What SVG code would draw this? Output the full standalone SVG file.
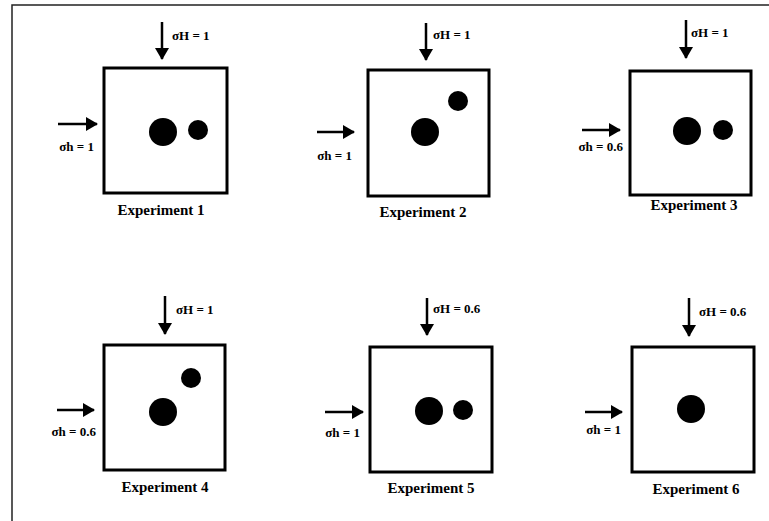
<svg xmlns="http://www.w3.org/2000/svg" width="769" height="521" viewBox="0 0 769 521">
<style>
.frame{stroke:#222;stroke-width:1.5;fill:none}
.box{fill:#fff;stroke:#000;stroke-width:3}
.dot{fill:#000}
.lbl{font-family:"Liberation Serif","Times New Roman",serif;font-weight:bold;font-size:13px;fill:#000}
.cap{font-family:"Liberation Serif","Times New Roman",serif;font-weight:bold;font-size:15px;fill:#000;text-anchor:middle}
.arr{stroke:#000;stroke-width:2.5;fill:none;marker-end:url(#ah)}
</style>
<defs>
<marker id="ah" markerUnits="userSpaceOnUse" markerWidth="14" markerHeight="14" viewBox="0 0 12 14" refX="11" refY="7" orient="auto">
<path d="M0,0 L12,7 L0,14 Z" fill="#000"/>
</marker>
</defs>
<rect width="769" height="521" fill="#fff"/>
<path class="frame" d="M12,521 V5 H769"/>

<g id="exp1">
<rect class="box" x="104" y="68" width="123" height="125"/>
<circle class="dot" cx="163" cy="132" r="14"/>
<circle class="dot" cx="198" cy="130" r="10"/>
<text class="lbl" x="172" y="40">σH = 1</text>
<text class="lbl" x="94" y="151" text-anchor="end">σh = 1</text>
<text class="cap" x="161" y="215">Experiment 1</text>
</g>
<g id="exp2">
<rect class="box" x="368" y="70" width="121" height="126"/>
<circle class="dot" cx="425" cy="132" r="14"/>
<circle class="dot" cx="458" cy="101" r="10"/>
<text class="lbl" x="433" y="39">σH = 1</text>
<text class="lbl" x="352" y="160" text-anchor="end">σh = 1</text>
<text class="cap" x="423" y="217">Experiment 2</text>
</g>
<g id="exp3">
<rect class="box" x="630" y="71" width="121" height="124"/>
<circle class="dot" cx="687" cy="131" r="14"/>
<circle class="dot" cx="723" cy="130" r="10"/>
<text class="lbl" x="691" y="37">σH = 1</text>
<text class="lbl" x="623" y="151" text-anchor="end">σh = 0.6</text>
<text class="cap" x="694" y="210">Experiment 3</text>
</g>
<g id="exp4">
<rect class="box" x="104" y="345" width="121" height="125"/>
<circle class="dot" cx="163" cy="412" r="14"/>
<circle class="dot" cx="191" cy="378" r="10"/>
<text class="lbl" x="176" y="314">σH = 1</text>
<text class="lbl" x="96" y="436" text-anchor="end">σh = 0.6</text>
<text class="cap" x="165" y="492">Experiment 4</text>
</g>
<g id="exp5">
<rect class="box" x="370" y="347" width="122" height="125"/>
<circle class="dot" cx="429" cy="411" r="14"/>
<circle class="dot" cx="463" cy="410" r="10"/>
<text class="lbl" x="433" y="313">σH = 0.6</text>
<text class="lbl" x="360" y="437" text-anchor="end">σh = 1</text>
<text class="cap" x="431" y="493">Experiment 5</text>
</g>
<g id="exp6">
<rect class="box" x="632" y="347" width="122" height="125"/>
<circle class="dot" cx="691" cy="409" r="14"/>
<text class="lbl" x="699" y="316">σH = 0.6</text>
<text class="lbl" x="621" y="434" text-anchor="end">σh = 1</text>
<text class="cap" x="696" y="494">Experiment 6</text>
</g>

<g id="connectors">
<line class="arr" x1="162" y1="22" x2="162" y2="59"/>
<line class="arr" x1="58" y1="124" x2="97" y2="124"/>
<line class="arr" x1="426" y1="23" x2="426" y2="60"/>
<line class="arr" x1="317" y1="132" x2="354" y2="132"/>
<line class="arr" x1="686" y1="20" x2="686" y2="58"/>
<line class="arr" x1="582" y1="130" x2="620" y2="130"/>
<line class="arr" x1="165" y1="296" x2="165" y2="334"/>
<line class="arr" x1="57" y1="410" x2="94" y2="410"/>
<line class="arr" x1="427" y1="298" x2="427" y2="335"/>
<line class="arr" x1="325" y1="412" x2="363" y2="412"/>
<line class="arr" x1="689" y1="298" x2="689" y2="336"/>
<line class="arr" x1="585" y1="412" x2="622" y2="412"/>
</g>
</svg>
